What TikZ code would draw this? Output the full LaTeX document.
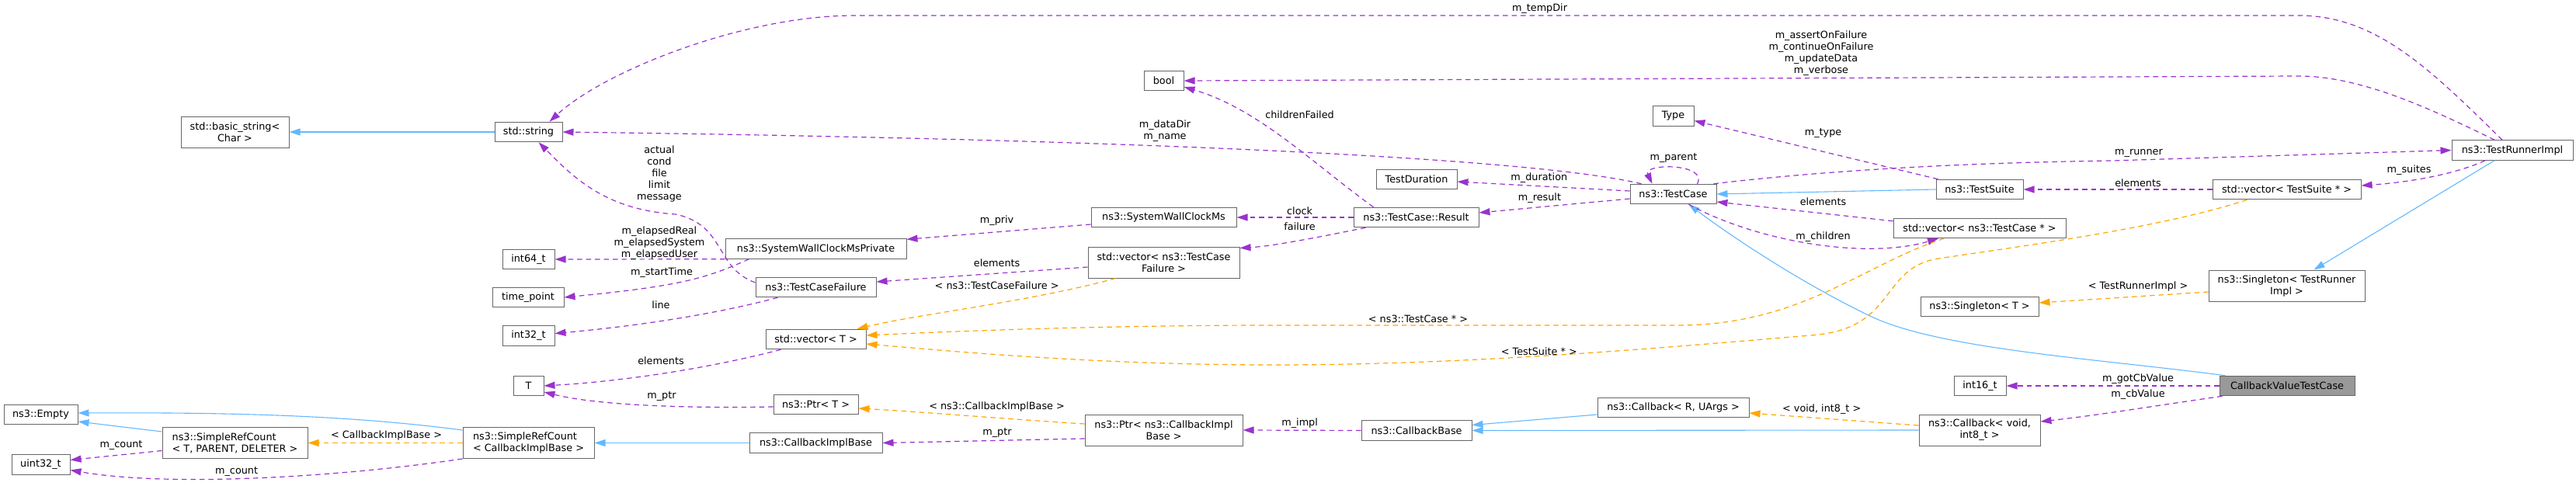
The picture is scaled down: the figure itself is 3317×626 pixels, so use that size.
\documentclass[tikz,border=0pt]{standalone}
\usepackage{fontspec}
\setmainfont{DejaVu Sans}
\usetikzlibrary{arrows.meta,calc}
\definecolor{inhblue}{HTML}{63B8FF}
\definecolor{usepurple}{HTML}{9A32CD}
\definecolor{tmplorange}{HTML}{FFA500}
\definecolor{nodeborder}{HTML}{666666}
\definecolor{rootfill}{HTML}{999999}
\tikzset{
  box/.style={draw=nodeborder, fill=white, line width=1pt, inner sep=0pt, align=center,
    minimum height=25.5pt, font=\fontsize{12.8}{15}\selectfont},
  box2/.style={box, minimum height=40pt},
  lbl/.style={inner sep=0pt, align=center, font=\fontsize{12.8}{15}\selectfont},
  tip/.style={-{Triangle[length=14pt,width=9pt]}},
  inh/.style={draw=inhblue, line width=1.1pt, tip},
  use/.style={draw=usepurple, line width=1.2pt, dash pattern=on 6.5pt off 5pt, tip},
  tmpl/.style={draw=tmplorange, line width=1.2pt, dash pattern=on 6.5pt off 5pt, tip}
}
\begin{document}
\begin{tikzpicture}[x=1pt,y=-1pt]
\useasboundingbox (0,0) rectangle (3317,626);
% ---------- nodes ----------
\node[box2, minimum width=139pt] (bstr) at (302.5,170) {std::basic\_string<\\Char >};
\node[box, minimum width=95pt] (empty) at (52.5,534) {ns3::Empty};
\node[box2, minimum width=187pt, align=left] (src1) at (302.5,570.5) {ns3::SimpleRefCount\\< T, PARENT, DELETER >};
\node[box, minimum width=75pt] (u32) at (52.5,598.5) {uint32\_t};
\node[box, minimum width=87pt] (str) at (680.5,170) {std::string};
\node[box, minimum width=67pt] (i64) at (680.5,334) {int64\_t};
\node[box, minimum width=92pt] (tp) at (680,383) {time\_point};
\node[box, minimum width=67pt] (i32) at (680.5,432.5) {int32\_t};
\node[box, minimum width=39pt] (T) at (680.5,497) {T};
\node[box2, minimum width=169pt, align=left] (src2) at (680.5,570.5) {ns3::SimpleRefCount\\< CallbackImplBase >};
\node[box, minimum width=233pt] (swcmp) at (1050.5,320.5) {ns3::SystemWallClockMsPrivate};
\node[box, minimum width=155pt] (tcf) at (1050.5,370) {ns3::TestCaseFailure};
\node[box, minimum width=129pt] (vecT) at (1050.5,437) {std::vector< T >};
\node[box, minimum width=109pt] (ptrT) at (1050.5,521) {ns3::Ptr< T >};
\node[box, minimum width=171pt] (cib) at (1050.5,570.5) {ns3::CallbackImplBase};
\node[box, minimum width=51pt] (bool) at (1498.5,104) {bool};
\node[box, minimum width=187pt] (swc) at (1498.5,280) {ns3::SystemWallClockMs};
\node[box2, minimum width=195pt] (vecTCF) at (1498.5,338) {std::vector< ns3::TestCase\\Failure >};
\node[box2, minimum width=203pt] (ptrCIB) at (1498.5,554) {ns3::Ptr< ns3::CallbackImpl\\Base >};
\node[box, minimum width=104pt] (tdur) at (1824,231) {TestDuration};
\node[box, minimum width=161pt] (result) at (1823.5,280) {ns3::TestCase::Result};
\node[box, minimum width=142pt] (cbb) at (1824,554.5) {ns3::CallbackBase};
\node[box, minimum width=111pt] (tc) at (2154.5,250) {ns3::TestCase};
\node[box, minimum width=53pt] (type) at (2154.5,149.5) {Type};
\node[box, minimum width=195pt] (cbRU) at (2154.5,525) {ns3::Callback< R, UArgs >};
\node[box, minimum width=112pt] (ts) at (2549,244) {ns3::TestSuite};
\node[box, minimum width=222pt] (vecTC) at (2549,294) {std::vector< ns3::TestCase * >};
\node[box, minimum width=152pt] (sgT) at (2549,395) {ns3::Singleton< T >};
\node[box, minimum width=67pt] (i16) at (2549.5,497) {int16\_t};
\node[box2, minimum width=156pt] (cbV) at (2549,554) {ns3::Callback< void,\\int8\_t >};
\node[box, minimum width=156pt] (tri) at (3235,193.5) {ns3::TestRunnerImpl};
\node[box, minimum width=191pt] (vecTS) at (2944.5,244) {std::vector< TestSuite * >};
\node[box2, minimum width=201pt] (sgTRI) at (2944.5,368) {ns3::Singleton< TestRunner\\Impl >};
\node[box, minimum width=174pt, fill=rootfill] (cvtc) at (2945,497) {CallbackValueTestCase};
% ---------- inheritance ----------
\draw[inh] (str.west) -- (bstr.east);
\draw[inh] ($(src1.north west)+(0,6)$) -- ($(empty.east)+(0,9)$);
\draw[inh] ($(src2.north west)+(0,4)$) .. controls (450,535) and (300,531) .. ($(empty.east)+(0,-2)$);
\draw[inh] (cib.west) -- (src2.east);
\draw[inh] (cbV.west) -- (cbb.east);
\draw[inh] ($(cbRU.west)+(0,9)$) -- ($(cbb.east)+(0,-7)$);
\draw[inh] (ts.west) -- (tc.east);
\draw[inh] ($(cvtc.north west)+(8,0)$) .. controls (2700,462) and (2500,450) .. (2410,408)
  .. controls (2320,365) and (2230,305) .. ($(tc.south)+(20,0)$);
\draw[inh] ($(tri.south)+(-23,0)$) -- ($(sgTRI.north)+(35,0)$);
% ---------- usage ----------
\draw[use] ($(tri.north)+(-13,0)$) .. controls (3130,90) and (3060,20) .. (2960,20) -- (1100,20)
  .. controls (960,20) and (780,90) .. ($(str.north)+(27,0)$);
\draw[use] ($(tri.north)+(-23,0)$) .. controls (3130,140) and (3040,98) .. (2960,98) -- (bool.east);
\draw[use] ($(result.north)+(-55,0)$) .. controls (1690,210) and (1620,140) .. ($(bool.east)+(0,8)$);
\draw[use] ($(tc.north)+(-41,0)$) .. controls (1980,205) and (1500,180) .. (str.east);
\draw[use] ($(tc.west)+(0,-4)$) -- ($(tdur.east)+(0,3)$);
\draw[use] ($(tc.west)+(0,6)$) -- ($(result.east)+(0,-6)$);
\draw[use] (result.west) -- (swc.east);
\draw[use] ($(result.south west)+(16,0)$) .. controls (1700,305) and (1640,317) .. ($(vecTCF.north east)+(0,2)$);
\draw[use] ($(swc.west)+(0,9)$) -- ($(swcmp.north east)+(0,1)$);
\draw[use] ($(vecTCF.west)+(0,6)$) -- ($(tcf.east)+(0,-7)$);
\draw[use] ($(tcf.west)+(0,-6)$) .. controls (920,345) and (935,290) .. (870,276)
  .. controls (780,270) and (740,230) .. ($(str.south)+(13,0)$);
\draw[use] (swcmp.south west) -- (i64.east);
\draw[use] ($(swcmp.south west)+(31,0)$) .. controls (910,358) and (880,368) .. (tp.east);
\draw[use] ($(tcf.south west)+(29,0)$) .. controls (920,405) and (820,420) .. ($(i32.east)+(0,-3)$);
\draw[use] ($(vecT.south west)+(20,0)$) .. controls (930,470) and (820,490) .. (T.east);
\draw[use] ($(ptrT.west)+(0,3)$) .. controls (880,526) and (770,522) .. ($(T.east)+(0,8)$);
\draw[use] ($(src1.west)+(0,10)$) -- ($(u32.east)+(0,-6)$);
\draw[use] (src2.south west) .. controls (440,614) and (220,628) .. ($(u32.east)+(0,7)$);
\draw[use] ($(ptrCIB.west)+(0,11)$) -- (cib.east);
\draw[use] (cbb.west) -- (ptrCIB.east);
\draw[use] ($(tc.south)+(20,0)$) .. controls (2260,310) and (2400,335) .. ($(vecTC.south)+(-53,0)$);
\draw[use] ($(vecTC.north west)+(0,4)$) -- ($(tc.east)+(0,10)$);
\draw[use] ($(ts.north west)+(3,0)$) -- ($(type.east)+(0,6)$);
\draw[use] ($(tc.north east)+(-4,0)$) .. controls (2330,222) and (2500,210) .. (2720,207) -- (tri.west);
\draw[use] (vecTS.west) -- (ts.east);
\draw[use] ($(tri.south)+(-35,0)$) .. controls (3160,225) and (3100,235) .. ($(vecTS.east)+(0,-5)$);
\draw[use] (cvtc.west) -- (i16.east);
\draw[use] ($(cvtc.south west)+(4,0)$) .. controls (2780,522) and (2700,535) .. ($(cbV.east)+(0,-11)$);
\draw[use] ($(tc.north)+(31,0)$) .. controls (2200,210) and (2115,210) .. ($(tc.north)+(-27,0)$);
% ---------- template instances ----------
\draw[tmpl] (src2.west) -- (src1.east);
\draw[tmpl] ($(ptrCIB.west)+(0,-8)$) .. controls (1300,540) and (1180,530) .. ($(ptrT.east)+(0,5)$);
\draw[tmpl] ($(vecTCF.south)+(-62,0)$) .. controls (1330,388) and (1180,405) .. ($(vecT.north east)+(-12,0)$);
\draw[tmpl] ($(vecTC.south)+(-46,0)$) .. controls (2400,340) and (2320,419) .. (2160,419) -- (1640,419)
  .. controls (1400,419) and (1200,428) .. ($(vecT.east)+(0,-5)$);
\draw[tmpl] ($(vecTS.south)+(-51,0)$) .. controls (2780,295) and (2580,320) .. (2490,334)
  .. controls (2420,350) and (2440,425) .. (2331,432)
  .. controls (2150,447) and (1900,470) .. (1640,470)
  .. controls (1400,470) and (1200,450) .. ($(vecT.east)+(0,6)$);
\draw[tmpl] ($(sgTRI.west)+(0,8)$) -- ($(sgT.east)+(0,-5)$);
\draw[tmpl] ($(cbV.west)+(0,-6)$) -- ($(cbRU.east)+(0,7)$);
% ---------- labels ----------
\node[lbl] (Ltemp) at (1982.5,11) {m\_tempDir};
\node[lbl] (Lassert) at (2345,68.4) {m\_assertOnFailure\\m\_continueOnFailure\\m\_updateData\\m\_verbose};
\node[lbl] (LchF) at (1673.5,147.6) {childrenFailed};
\node[lbl] (Ldata) at (1500,168.2) {m\_dataDir\\m\_name};
\node[lbl] (Lactual) at (849,223.8) {actual\\cond\\file\\limit\\message};
\node[lbl] (Lelapsed) at (849,313.2) {m\_elapsedReal\\m\_elapsedSystem\\m\_elapsedUser};
\node[lbl] (Lstart) at (852,350.8) {m\_startTime};
\node[lbl] (Lline) at (851,392.8) {line};
\node[lbl] (Lel1) at (851,465) {elements};
\node[lbl] (Lptr1) at (852,511) {m\_ptr};
\node[lbl] (Lcnt1) at (156,574) {m\_count};
\node[lbl] (Lcnt2) at (304.6,608) {m\_count};
\node[lbl] (Lcib) at (497.5,561) {< CallbackImplBase >};
\node[lbl] (Lpriv) at (1283.6,284) {m\_priv};
\node[lbl] (Lel2) at (1283.6,339) {elements};
\node[lbl] (Ltcf) at (1283.6,368) {< ns3::TestCaseFailure >};
\node[lbl] (Lncib) at (1283.6,524) {< ns3::CallbackImplBase >};
\node[lbl] (Lptr2) at (1284,558) {m\_ptr};
\node[lbl] (Ldur) at (1981.8,229) {m\_duration};
\node[lbl] (Lres) at (1982.5,255) {m\_result};
\node[lbl] (Lclock) at (1673.6,272) {clock};
\node[lbl] (Lfail) at (1673.6,291.6) {failure};
\node[lbl] (Ltcp) at (1826,411) {< ns3::TestCase * >};
\node[lbl] (Ltsp) at (1981.8,452.4) {< TestSuite * >};
\node[lbl] (Limpl) at (1673.6,545) {m\_impl};
\node[lbl] (Lparent) at (2155,204) {m\_parent};
\node[lbl] (Ltype) at (2347.5,172) {m\_type};
\node[lbl] (Lel3) at (2347.5,260) {elements};
\node[lbl] (Lchild) at (2347.5,305) {m\_children};
\node[lbl] (Lvoid) at (2345.7,527) {< void, int8\_t >};
\node[lbl] (Lrunner) at (2754,197) {m\_runner};
\node[lbl] (Lel4) at (2753,236) {elements};
\node[lbl] (Lsuites) at (3102,219) {m\_suites};
\node[lbl] (Ltri) at (2753,369) {< TestRunnerImpl >};
\node[lbl] (Lgot) at (2753,488) {m\_gotCbValue};
\node[lbl] (Lcbv) at (2753,508) {m\_cbValue};
\end{tikzpicture}
\end{document}
